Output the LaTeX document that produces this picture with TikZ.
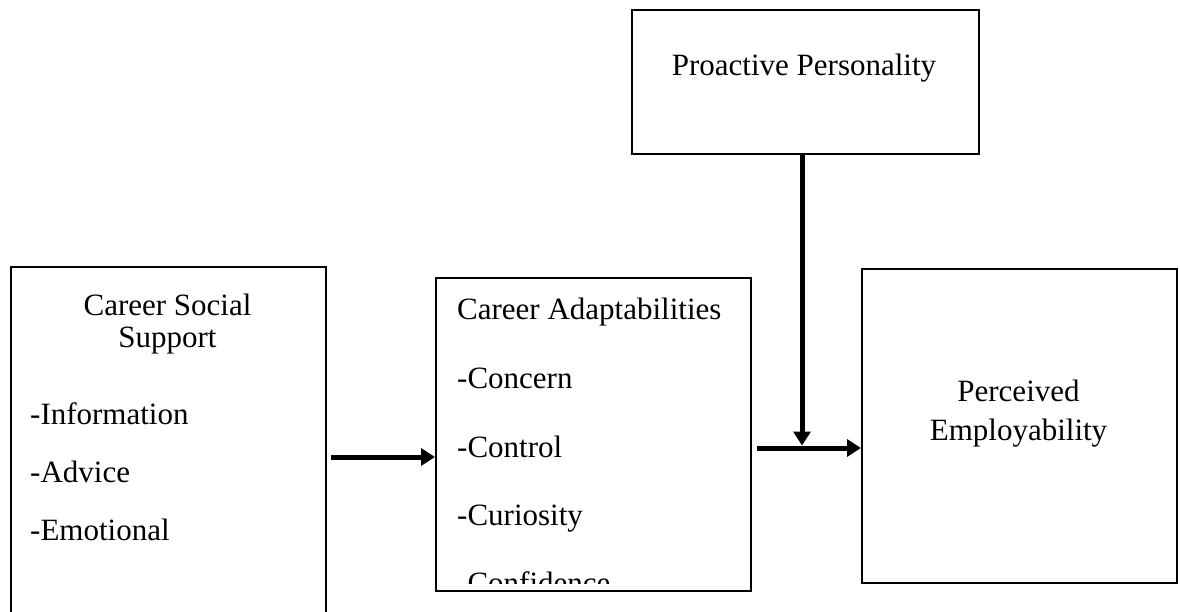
\documentclass[tikz,border=0pt]{standalone}
\usepackage{fontspec}
\setmainfont{Liberation Serif}
\usetikzlibrary{arrows.meta}
\tikzset{
  boxnode/.style={draw=black, line width=2pt, inner sep=0pt, anchor=north west},
  txt/.style={inner sep=0pt, font=\fontsize{31}{37}\selectfont},
  arr/.style={line width=5pt, -{Triangle[length=14pt,width=17pt]}}
}
\begin{document}
\begin{tikzpicture}[x=1pt,y=-1pt]
\clip (0,0) rectangle (1180,612);
\fill[white] (0,0) rectangle (1180,612);
% boxes
\node[boxnode, minimum width=315pt, minimum height=360pt] (ssup) at (10,266) {};
\node[boxnode, minimum width=315pt, minimum height=313pt] (adapt) at (435,277) {};
\node[boxnode, minimum width=347pt, minimum height=144pt] (pro) at (631,9) {};
\node[boxnode, minimum width=315pt, minimum height=314pt] (emp) at (861,268) {};
% left box text
\node[txt, anchor=base] (t1) at (167.5,316) {Career Social};
\node[txt, anchor=base] (t2) at (167.5,347) {Support};
\node[txt, anchor=base west] (t3) at (30,424) {-Information};
\node[txt, anchor=base west] (t4) at (30,482) {-Advice};
\node[txt, anchor=base west] (t5) at (30,540) {-Emotional};
% middle box text (clipped)
\begin{scope}
\clip (436,278) rectangle (749,583);
\node[txt, anchor=base west] (m1) at (457,319) {Career Adaptabilities};
\node[txt, anchor=base west] (m2) at (457,388) {-Concern};
\node[txt, anchor=base west] (m3) at (457,457) {-Control};
\node[txt, anchor=base west] (m4) at (457,525) {-Curiosity};
\node[txt, anchor=base west] (m5) at (457,593) {-Confidence};
\end{scope}
% top and right text
\node[txt, anchor=base] (p1) at (804,76) {Proactive Personality};
\node[txt, anchor=base] (e1) at (1018.5,401) {Perceived};
\node[txt, anchor=base] (e2) at (1018.5,440) {Employability};
% connectors
\coordinate (a1) at (0,457);
\coordinate (j) at (802,448);
\draw[arr, shorten <=4pt] (ssup.east |- a1) -- (adapt.west |- a1);
\draw[arr, shorten <=5pt] (adapt.east |- j) -- (emp.west |- j);
\draw[arr, shorten >=2.5pt] (pro.south -| j) -- (j);
\end{tikzpicture}
\end{document}
